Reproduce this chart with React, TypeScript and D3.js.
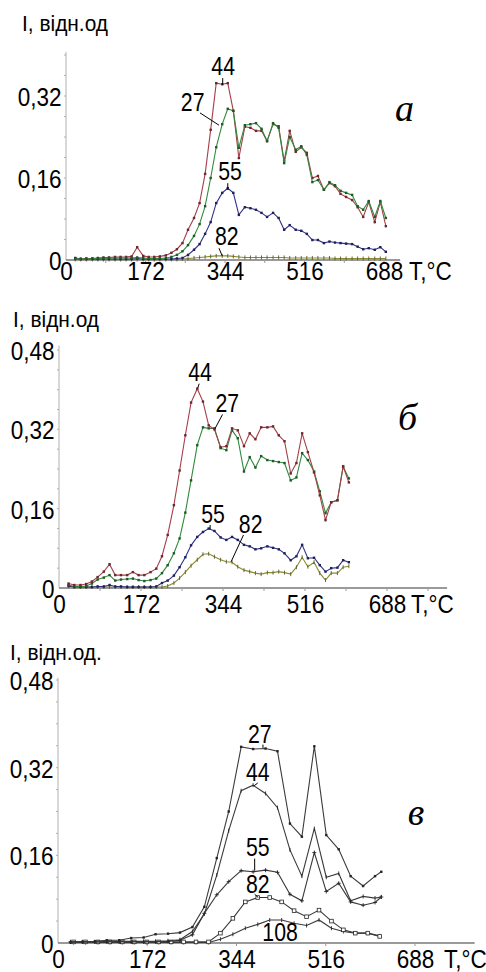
import React, { useRef, useEffect } from "react";
import * as d3 from "d3";

// ---- panel a ----
const tempA = [20,32,44,57,69,81,93,106,118,130,142,154,167,179,191,203,216,228,240,252,264,277,289,301,313,325,338,350,362,374,387,399,411,423,435,448,460,472,484,497,509,521,533,545,558,570,582,594,606,619,631,643,655,668,680,692];
const a44 = [0.002,0.002,0.003,0.003,0.004,0.005,0.005,0.006,0.006,0.006,0.007,0.025,0.008,0.006,0.006,0.007,0.009,0.014,0.021,0.033,0.059,0.082,0.111,0.168,0.254,0.345,0.343,0.345,0.291,0.199,0.260,0.258,0.252,0.252,0.232,0.265,0.261,0.193,0.252,0.211,0.220,0.209,0.160,0.164,0.137,0.150,0.144,0.129,0.123,0.117,0.103,0.084,0.113,0.074,0.113,0.066];
const a27 = [0.003,0.002,0.002,0.003,0.003,0.003,0.004,0.004,0.004,0.004,0.004,0.005,0.004,0.003,0.003,0.003,0.004,0.006,0.010,0.017,0.029,0.047,0.070,0.105,0.160,0.220,0.265,0.295,0.291,0.219,0.263,0.265,0.267,0.256,0.232,0.267,0.258,0.189,0.240,0.215,0.222,0.205,0.152,0.156,0.137,0.152,0.146,0.135,0.131,0.127,0.105,0.098,0.115,0.084,0.115,0.082];
const a55 = [0.004,0.002,0.002,0.002,0.002,0.002,0.002,0.002,0.002,0.002,0.002,0.003,0.002,0.002,0.002,0.002,0.002,0.002,0.003,0.004,0.010,0.020,0.031,0.051,0.074,0.111,0.131,0.140,0.131,0.088,0.103,0.101,0.098,0.092,0.084,0.092,0.082,0.059,0.068,0.059,0.057,0.051,0.039,0.039,0.033,0.036,0.034,0.033,0.032,0.031,0.026,0.021,0.023,0.020,0.025,0.016];
const a82 = [0.001,0.001,0.001,0.001,0.001,0.001,0.001,0.001,0.001,0.001,0.001,0.001,0.001,0.001,0.001,0.001,0.001,0.001,0.001,0.002,0.003,0.004,0.005,0.006,0.007,0.008,0.008,0.008,0.007,0.006,0.005,0.005,0.005,0.005,0.005,0.005,0.005,0.005,0.004,0.004,0.004,0.004,0.004,0.004,0.004,0.004,0.003,0.003,0.003,0.003,0.003,0.003,0.003,0.003,0.003,0.003];

// ---- panel б ----
const tempB = [20,32,45,57,69,81,94,106,118,130,143,155,167,179,192,204,216,228,241,253,265,277,290,302,314,326,339,351,363,375,388,400,412,424,437,449,461,473,486,498,510,522,535,547,559,571,584,596,608];
const b44 = [0.009,0.006,0.006,0.008,0.013,0.022,0.033,0.048,0.026,0.026,0.026,0.032,0.026,0.026,0.032,0.039,0.064,0.107,0.167,0.237,0.308,0.374,0.402,0.376,0.328,0.320,0.284,0.286,0.322,0.318,0.286,0.312,0.300,0.324,0.324,0.326,0.308,0.296,0.231,0.252,0.312,0.274,0.233,0.187,0.137,0.173,0.177,0.245,0.213];
const b27 = [0.006,0.003,0.003,0.004,0.009,0.017,0.021,0.026,0.015,0.017,0.018,0.019,0.016,0.014,0.016,0.019,0.030,0.046,0.070,0.100,0.152,0.217,0.288,0.324,0.322,0.322,0.282,0.278,0.318,0.302,0.235,0.264,0.243,0.266,0.258,0.256,0.254,0.252,0.217,0.223,0.272,0.258,0.235,0.195,0.151,0.173,0.177,0.245,0.221];
const b55 = [0.004,0.002,0.002,0.002,0.002,0.003,0.003,0.006,0.003,0.003,0.002,0.002,0.002,0.002,0.002,0.003,0.010,0.015,0.025,0.042,0.062,0.086,0.103,0.113,0.120,0.115,0.102,0.097,0.103,0.097,0.087,0.084,0.078,0.080,0.084,0.081,0.078,0.070,0.056,0.064,0.087,0.060,0.061,0.046,0.033,0.040,0.041,0.056,0.052];
const b82 = [0.004,0.002,0.002,0.002,0.002,0.002,0.002,0.002,0.002,0.002,0.002,0.002,0.002,0.002,0.002,0.002,0.002,0.004,0.010,0.020,0.032,0.045,0.057,0.068,0.069,0.063,0.057,0.053,0.052,0.043,0.036,0.033,0.030,0.028,0.031,0.031,0.033,0.031,0.028,0.042,0.062,0.043,0.052,0.030,0.016,0.030,0.030,0.042,0.044];

// ---- panel в ----
const tempC1 = [24,47,71,94,118,141,165,188,212,235,259,282,306,329,353,376,400,423,447,470,494,517,541,564,588,611,623];
const c27 = [0.001,0.002,0.003,0.005,0.005,0.009,0.010,0.016,0.017,0.019,0.029,0.066,0.155,0.240,0.358,0.354,0.355,0.350,0.218,0.194,0.359,0.197,0.171,0.122,0.104,0.122,0.130];
const c44 = [0.002,0.002,0.002,0.003,0.003,0.003,0.003,0.003,0.004,0.006,0.021,0.053,0.124,0.205,0.278,0.288,0.273,0.247,0.170,0.122,0.209,0.120,0.127,0.077,0.085,0.082,0.084];
const c55 = [0.002,0.002,0.002,0.002,0.002,0.002,0.002,0.002,0.003,0.005,0.015,0.054,0.088,0.112,0.132,0.130,0.133,0.129,0.089,0.077,0.165,0.094,0.109,0.075,0.069,0.074,0.084];
const tempC2 = [30,53,77,100,124,147,171,194,218,242,266,290,313,337,361,385,408,431,455,479,503,527,550,573,597,620];
const c82 = [0.002,0.002,0.002,0.002,0.002,0.002,0.002,0.002,0.002,0.002,0.002,0.002,0.018,0.045,0.075,0.083,0.083,0.075,0.059,0.048,0.060,0.040,0.024,0.018,0.018,0.012];
const c108 = [0.001,0.001,0.001,0.001,0.001,0.001,0.001,0.001,0.001,0.001,0.001,0.001,0.007,0.016,0.027,0.034,0.042,0.042,0.036,0.032,0.042,0.027,0.021,0.018,0.018,0.013];

const xTickValues = [0, 172, 344, 516, 688];

const RED = "#a63e48";
const GREEN = "#2f8a3c";
const BLUE = "#30308a";
const OLIVE = "#8c8a34";
const GREY = "#3a3a3a";

const panels = [
  {
    xRange: [66, 384], yRange: [260, 96], yRef: 0.32, xEnd: 723, yEnd: 0.406,
    yTicks: [0, 0.16, 0.32], xMinor: 86, xPad: 2.3,
    title: "I, відн.од", titlePos: [22, 31],
    unitX: 409, letter: "а", letterAt: [712, 0.271],
    series: [
      { temps: tempA, values: a82, color: OLIVE, marker: "tick" },
      { temps: tempA, values: a55, color: BLUE, marker: "dot" },
      { temps: tempA, values: a44, color: RED, marker: "dot" },
      { temps: tempA, values: a27, color: GREEN, marker: "dot" },
    ],
    labels: [
      { text: "44", at: [340, 0.361], lead: [[339, 0.355], [339, 0.341]] },
      { text: "27", at: [274, 0.291], lead: [[290, 0.287], [331, 0.263]] },
      { text: "55", at: [355, 0.156], lead: [[350, 0.150], [350, 0.139]] },
      { text: "82", at: [348, 0.029], lead: [[331, 0.023], [338, 0.008]] },
    ],
  },
  {
    xRange: [59, 387], yRange: [588, 350], yRef: 0.48, xEnd: 814, yEnd: 0.489,
    yTicks: [0, 0.16, 0.32, 0.48], xMinor: 86, xPad: 7.3,
    title: "I, відн.од", titlePos: [13, 327],
    unitX: 411, letter: "б", letterAt: [711, 0.318],
    series: [
      { temps: tempB, values: b82, color: OLIVE, marker: "tick" },
      { temps: tempB, values: b55, color: BLUE, marker: "dot" },
      { temps: tempB, values: b27, color: GREEN, marker: "dot" },
      { temps: tempB, values: b44, color: RED, marker: "dot" },
    ],
    labels: [
      { text: "44", at: [296, 0.417], lead: [[294, 0.412], [291, 0.403]] },
      { text: "27", at: [353, 0.355], lead: [[343, 0.350], [327, 0.321]] },
      { text: "55", at: [323, 0.131], lead: [[317, 0.127], [317, 0.118]] },
      { text: "82", at: [402, 0.111], lead: [[387, 0.107], [361, 0.053]] },
    ],
  },
  {
    xRange: [58, 415], yRange: [943, 680], yRef: 0.48, xEnd: 803, yEnd: 0.484,
    yTicks: [0, 0.16, 0.32, 0.48], xMinor: 172, xPad: 7.3,
    title: "I, відн.од.", titlePos: [10, 660],
    unitX: 444, letter: "в", letterAt: [674, 0.215],
    series: [
      { temps: tempC2, values: c108, color: GREY, marker: "tick" },
      { temps: tempC2, values: c82, color: GREY, marker: "square" },
      { temps: tempC1, values: c55, color: GREY, marker: "plus" },
      { temps: tempC1, values: c44, color: GREY, marker: "tick" },
      { temps: tempC1, values: c27, color: GREY, marker: "dot" },
    ],
    labels: [
      { text: "27", at: [389, 0.365], lead: [[395, 0.362], [395, 0.356]] },
      { text: "44", at: [385, 0.296], lead: [[385, 0.292], [378, 0.287]] },
      { text: "55", at: [385, 0.159], lead: [[379, 0.154], [379, 0.132]] },
      { text: "82", at: [385, 0.091], lead: [[379, 0.089], [386, 0.083]] },
      { text: "108", at: [428, 0.004], lead: null },
    ],
  },
];

const SANS = "'Liberation Sans', Arial, sans-serif";

// narrow, tall text like the scanned figure
function addText(g, x, y, str, size, sx, anchor = "start") {
  return g.append("text")
    .attr("transform", `translate(${x},${y}) scale(${sx},1)`)
    .attr("text-anchor", anchor)
    .attr("font-family", SANS)
    .attr("font-size", size)
    .attr("fill", "#000")
    .text(str);
}

const App = () => {
  const chartRef = useRef(null);

  useEffect(() => {
    const svg = d3.select(chartRef.current);
    svg.selectAll("*").remove();

    svg.append("rect").attr("width", 486).attr("height", 972).attr("fill", "#fff");

    panels.forEach((p) => {
      const x = d3.scaleLinear().domain([0, 688]).range(p.xRange);
      const y = d3.scaleLinear().domain([0, p.yRef]).range(p.yRange);
      const g = svg.append("g");

      // y axis line + minor ticks
      g.append("line")
        .attr("x1", x(0)).attr("x2", x(0))
        .attr("y1", y(0)).attr("y2", y(p.yEnd))
        .attr("stroke", "#b0b0b0").attr("stroke-width", 1);
      d3.range(0.04, p.yEnd, 0.04).forEach((v) => {
        g.append("line")
          .attr("x1", x(0) - 2).attr("x2", x(0))
          .attr("y1", y(v)).attr("y2", y(v))
          .attr("stroke", "#b0b0b0");
      });

      // x axis line + ticks
      d3.range(p.xMinor, p.xEnd, p.xMinor).forEach((v) => {
        g.append("line")
          .attr("x1", x(v)).attr("x2", x(v))
          .attr("y1", y(0)).attr("y2", y(0) + 3)
          .attr("stroke", "#999");
      });
      g.append("line")
        .attr("x1", x(0)).attr("x2", x(p.xEnd))
        .attr("y1", y(0)).attr("y2", y(0))
        .attr("stroke", "#9a9a9a").attr("stroke-width", 2);

      const xAxis = g.append("g")
        .attr("transform", `translate(0,${y(0)})`)
        .call(d3.axisBottom(x).tickValues(xTickValues).tickFormat(d3.format("d")).tickSize(0).tickPadding(p.xPad));
      xAxis.select(".domain").remove();
      xAxis.selectAll("text")
        .attr("font-family", SANS).attr("font-size", 25).attr("fill", "#000")
        .attr("transform", "scale(0.9,1)");

      const yAxis = g.append("g")
        .attr("transform", `translate(${x(0)},0)`)
        .call(d3.axisLeft(y).tickValues(p.yTicks)
          .tickFormat((d) => (d === 0 ? "0" : d3.format(".2f")(d).replace(".", ",")))
          .tickSize(0).tickPadding(5));
      yAxis.select(".domain").remove();
      yAxis.selectAll("text")
        .attr("font-family", SANS).attr("font-size", 25).attr("fill", "#000")
        .attr("dy", "0.38em")
        .attr("transform", "scale(0.9,1)");

      // unit + title
      addText(g, p.unitX, y(0) + p.xPad + 17.8, "T,°C", 25, 0.9);
      addText(g, p.titlePos[0], p.titlePos[1], p.title, 22, 0.95);

      // curves
      const line = d3.line().x((d) => x(d[0])).y((d) => y(d[1]));
      p.series.forEach((s) => {
        const pts = s.temps.map((t, i) => [t, s.values[i]]);
        g.append("path")
          .attr("d", line(pts))
          .attr("fill", "none")
          .attr("stroke", s.color)
          .attr("stroke-width", 1.1);
        const dark = d3.color(s.color).darker(1.2).formatHex();
        const mg = g.append("g");
        pts.forEach(([t, v]) => {
          const cx = x(t), cy = y(v);
          if (s.marker === "dot") {
            mg.append("rect").attr("x", cx - 1.2).attr("y", cy - 1.2)
              .attr("width", 2.4).attr("height", 2.4).attr("fill", dark);
          } else if (s.marker === "square") {
            mg.append("rect").attr("x", cx - 1.8).attr("y", cy - 1.8)
              .attr("width", 3.6).attr("height", 3.6)
              .attr("fill", "#fff").attr("stroke", dark).attr("stroke-width", 0.8);
          } else if (s.marker === "plus") {
            mg.append("path")
              .attr("d", `M${cx - 2},${cy}H${cx + 2}M${cx},${cy - 2}V${cy + 2}`)
              .attr("stroke", dark).attr("stroke-width", 0.9);
          } else {
            mg.append("line").attr("x1", cx).attr("x2", cx)
              .attr("y1", cy - 2).attr("y2", cy + 2)
              .attr("stroke", dark).attr("stroke-width", 0.9);
          }
        });
      });

      // curve labels
      p.labels.forEach((l) => {
        addText(g, x(l.at[0]), y(l.at[1]), l.text, 25, 0.85, "middle");
        if (l.lead) {
          g.append("line")
            .attr("x1", x(l.lead[0][0])).attr("y1", y(l.lead[0][1]))
            .attr("x2", x(l.lead[1][0])).attr("y2", y(l.lead[1][1]))
            .attr("stroke", "#000").attr("stroke-width", 1);
        }
      });

      g.append("text")
        .attr("x", x(p.letterAt[0])).attr("y", y(p.letterAt[1]))
        .attr("font-family", "'Liberation Serif', 'Times New Roman', serif")
        .attr("font-style", "italic")
        .attr("font-size", 38)
        .text(p.letter);
    });
  }, []);

  return (
    <svg
      ref={chartRef}
      width={486}
      height={972}
      style={{ position: "absolute", left: 0, top: 0 }}
    />
  );
};

export default App;
